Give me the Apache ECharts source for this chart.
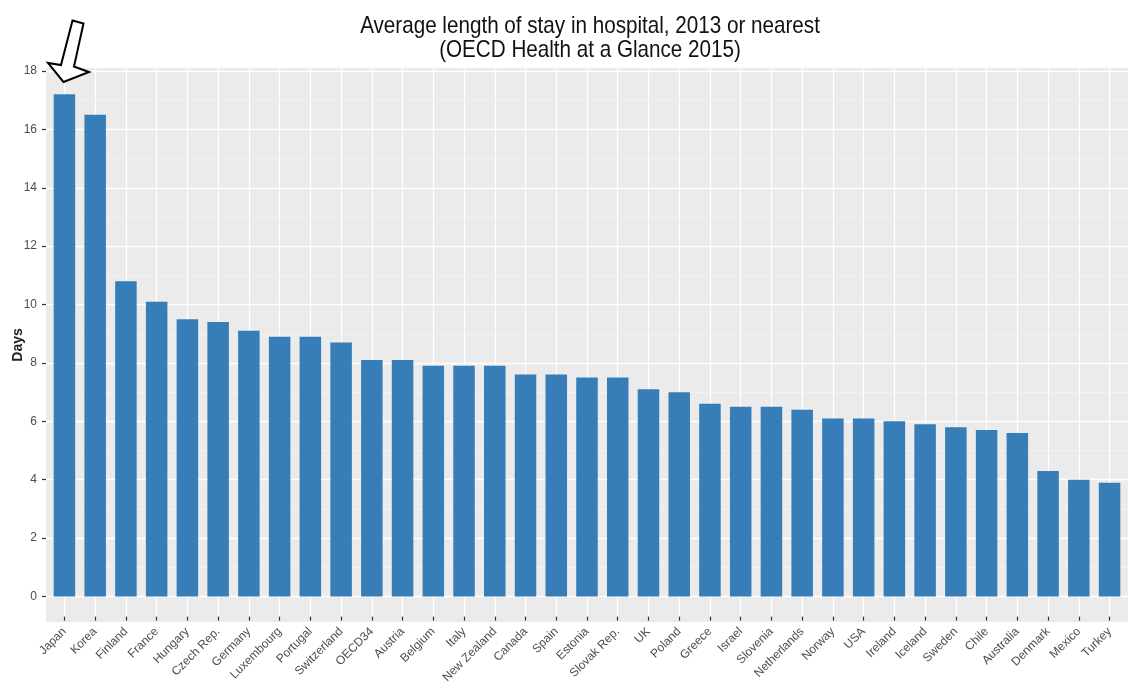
<!DOCTYPE html>
<html>
<head>
<meta charset="utf-8">
<script src="https://cdn.jsdelivr.net/npm/echarts@6/dist/echarts.min.js"></script>
<style>
  html, body { margin: 0; padding: 0; background: #fff; }
  #chart { width: 1130px; height: 686px; }
</style>
</head>
<body>
<div id="chart"></div>
<script>
const countries = ['Japan', 'Korea', 'Finland', 'France', 'Hungary', 'Czech Rep.', 'Germany', 'Luxembourg',
  'Portugal', 'Switzerland', 'OECD34', 'Austria', 'Belgium', 'Italy', 'New Zealand', 'Canada', 'Spain',
  'Estonia', 'Slovak Rep.', 'UK', 'Poland', 'Greece', 'Israel', 'Slovenia', 'Netherlands', 'Norway', 'USA',
  'Ireland', 'Iceland', 'Sweden', 'Chile', 'Australia', 'Denmark', 'Mexico', 'Turkey']
const days = [17.2, 16.5, 10.8, 10.1, 9.5, 9.4, 9.1, 8.9,
  8.9, 8.7, 8.1, 8.1, 7.9, 7.9, 7.9, 7.6, 7.6,
  7.5, 7.5, 7.1, 7.0, 6.6, 6.5, 6.5, 6.4, 6.1, 6.1,
  6.0, 5.9, 5.8, 5.7, 5.6, 4.3, 4.0, 3.9]
const yTicks = { min: 0, max: 18, step: 2 }
const titleLines = ['Average length of stay in hospital, 2013 or nearest', '(OECD Health at a Glance 2015)']

const font = "'Liberation Sans', Arial, sans-serif"
const panel = { left: 46, right: 2, top: 68, bottom: 64 }
// ggplot pads discrete axes by 0.6 of a category on each side
const band = (1130 - panel.left - panel.right) / (countries.length + 0.2)
const centerLeft = panel.left + 0.6 * band
const centerRight = panel.right + 0.6 * band
const zeroY = 596.5
const topY = 71

const chart = echarts.init(document.getElementById('chart'), null, { renderer: 'canvas' })

chart.setOption({
  animation: false,
  grid: [
    // panel background
    { ...panel, show: true, backgroundColor: '#ebebeb', borderWidth: 0 },
    // vertical grid lines + x labels at category centers
    { left: centerLeft, right: centerRight, top: panel.top, bottom: panel.bottom },
    // horizontal grid lines + y labels
    { left: panel.left, right: panel.right, top: topY, bottom: 686 - zeroY },
    // bars
    { left: centerLeft - band / 2, right: centerRight - band / 2, top: topY, bottom: 686 - zeroY },
  ],
  xAxis: [
    { gridIndex: 0, type: 'value', show: false },
    {
      gridIndex: 1,
      type: 'category',
      boundaryGap: false,
      data: countries,
      axisLine: { show: false },
      axisTick: { show: true, length: 4, lineStyle: { color: '#333', width: 1.2 } },
      axisLabel: { rotate: 45, margin: 13, color: '#4d4d4d', fontSize: 12, fontFamily: font, interval: 0 },
      splitLine: { show: true, lineStyle: { color: '#fff', width: 1.3 } },
    },
    { gridIndex: 2, type: 'value', show: false },
    { gridIndex: 3, type: 'category', data: countries, show: false },
  ],
  yAxis: [
    {
      gridIndex: 0,
      type: 'value',
      name: 'Days',
      nameLocation: 'middle',
      nameGap: 21,
      nameTextStyle: { fontFamily: font, fontSize: 14, fontWeight: 'bold', color: '#222' },
      axisLine: { show: false },
      axisTick: { show: false },
      axisLabel: { show: false },
      splitLine: { show: false },
    },
    { gridIndex: 1, type: 'value', show: false },
    {
      gridIndex: 2,
      type: 'value',
      min: yTicks.min,
      max: yTicks.max,
      interval: yTicks.step,
      axisLine: { show: false },
      axisTick: { show: true, length: 4, lineStyle: { color: '#333', width: 1.2 } },
      axisLabel: { margin: 9, color: '#4d4d4d', fontSize: 12, fontFamily: font },
      splitLine: { show: true, lineStyle: { color: '#fff', width: 1.3 } },
      minorTick: { show: false, splitNumber: 2 },
      minorSplitLine: { show: true, lineStyle: { color: '#f5f5f5', width: 0.7 } },
    },
    { gridIndex: 3, type: 'value', min: yTicks.min, max: yTicks.max, show: false },
  ],
  series: [
    {
      type: 'bar',
      xAxisIndex: 3,
      yAxisIndex: 3,
      data: days,
      barCategoryGap: '30%',
      itemStyle: { color: '#377eb8' },
      z: 3,
    },
  ],
  graphic: [
    {
      // title, squeezed to look like the narrow face of the original
      type: 'text',
      x: 590,
      y: 14,
      scaleX: 0.86,
      style: {
        text: titleLines.join('\n'),
        fontFamily: font,
        fontSize: 24,
        lineHeight: 24,
        textAlign: 'center',
        textVerticalAlign: 'top',
        fill: '#111',
      },
    },
    {
      type: 'polygon',
      z: 100,
      shape: {
        points: [[72.5, 20.5], [83.5, 23.5], [74, 66.5], [89, 72], [63.5, 82], [48, 63], [61, 65]],
      },
      style: { fill: '#fff', stroke: '#000', lineWidth: 2 },
    },
  ],
})
</script>
</body>
</html>
